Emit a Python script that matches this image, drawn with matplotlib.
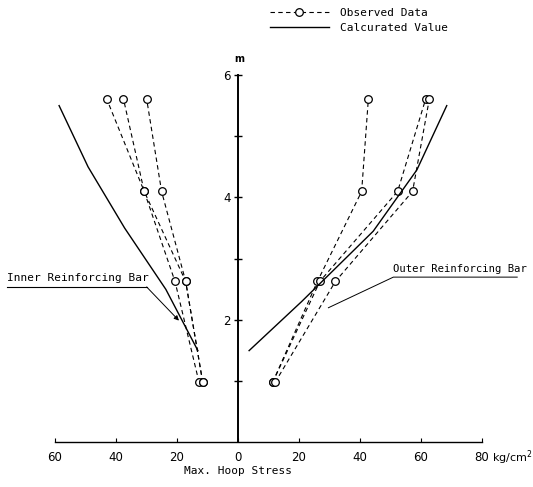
import matplotlib
matplotlib.use("Agg")
import matplotlib.pyplot as plt
from matplotlib.lines import Line2D

# heights (m) of the observation points
obs_height = [0.98, 2.63, 4.10, 5.61]

# inner reinforcing bar, observed (plotted on the left, so negative)
inner_obs = [
    [-12.6, -20.5, -30.6, -42.9],
    [-11.4, -17.0, -30.6, -37.4],
    [-11.4, -17.0, -24.9, -29.8],
]
# outer reinforcing bar, observed
outer_obs = [
    [11.5, 26.2, 40.7, 42.9],
    [11.5, 27.0, 52.5, 61.7],
    [12.3, 32.1, 57.4, 62.9],
]

# calculated values
inner_calc_h = [1.5, 2.5, 3.5, 4.5, 5.5]
inner_calc_x = [-13.0, -23.5, -37.0, -49.0, -58.5]
outer_calc_h = [1.5, 2.3, 3.45, 4.45, 5.5]
outer_calc_x = [3.8, 21.0, 44.5, 58.8, 68.6]

xticks = [-60, -40, -20, 0, 20, 40, 60, 80]
yticks = [1, 2, 3, 4, 5, 6]

mono = "DejaVu Sans Mono"

fig = plt.figure(figsize=(5.33, 4.87), dpi=100)
ax = fig.add_axes([0.1023, 0.0914, 0.8011, 0.7546])

obs_style = dict(color="k", lw=0.8, ls=(0, (4, 3)), marker="o", ms=5.5,
                 mfc="white", mec="k", mew=0.9)
for xs in inner_obs:
    ax.plot(xs, obs_height, clip_on=False, **obs_style)
for xs in outer_obs:
    ax.plot(xs, obs_height, clip_on=False, **obs_style)

ax.plot(inner_calc_x, inner_calc_h, color="k", lw=1.0)
ax.plot(outer_calc_x, outer_calc_h, color="k", lw=1.0)

# annotations
ax.plot([-75.7, -29.8], [2.54, 2.54], color="k", lw=0.8, clip_on=False)
ax.annotate("", xy=(-19.2, 1.99), xytext=(-29.8, 2.54),
            arrowprops=dict(arrowstyle="-|>", lw=0.7, color="k",
                            mutation_scale=7, shrinkA=0, shrinkB=0))
ax.text(-75.7, 2.69, "Inner Reinforcing Bar", family=mono, fontsize=8,
        ha="left", va="center")

ax.plot([29.8, 51.1, 91.7], [2.20, 2.70, 2.70], color="k", lw=0.7, clip_on=False)
ax.text(51.1, 2.84, "Outer Reinforcing Bar", family=mono, fontsize=7.6,
        ha="left", va="center")

# axes
ax.set_xlim(-60, 80)
ax.set_ylim(0, 6)
ax.spines["top"].set_visible(False)
ax.spines["right"].set_visible(False)
ax.spines["left"].set_position(("data", 0))
ax.spines["left"].set_linewidth(1.4)
ax.spines["bottom"].set_linewidth(1.0)

ax.set_xticks(xticks)
ax.set_xticklabels([str(abs(t)) for t in xticks])
ax.tick_params(axis="x", direction="in", length=3, width=0.8, pad=6, labelsize=8.5)
ax.set_yticks(yticks)
ax.set_yticklabels([str(t) if t % 2 == 0 else "" for t in yticks])
ax.tick_params(axis="y", direction="inout", length=6, width=1.0, pad=2, labelsize=8.5)

fig.text(492 / 533, 1 - 458 / 487, "kg/cm$^2$", fontsize=8, ha="left", va="center")
fig.text(238 / 533, 1 - 471 / 487, "Max. Hoop Stress", family=mono, fontsize=8,
         ha="center", va="center")
fig.text(239.5 / 533, 1 - 59 / 487, "m", fontsize=7, ha="center", va="center",
         fontweight="bold")

# legend
handles = [
    Line2D([], [], color="k", lw=0.8, ls=(0, (4, 3)), marker="o", ms=5.5,
           mfc="white", mec="k", mew=0.9),
    Line2D([], [], color="k", lw=1.0),
]
leg = fig.legend(handles, ["Observed Data", "Calcurated Value"],
                 loc="upper left", bbox_to_anchor=(270 / 533, 1 - 8 / 487),
                 frameon=False, prop={"family": mono, "size": 8},
                 handlelength=5.3, handletextpad=1.0, numpoints=1,
                 borderpad=0, borderaxespad=0, labelspacing=0.45)

fig.savefig("out.png", dpi=100)
